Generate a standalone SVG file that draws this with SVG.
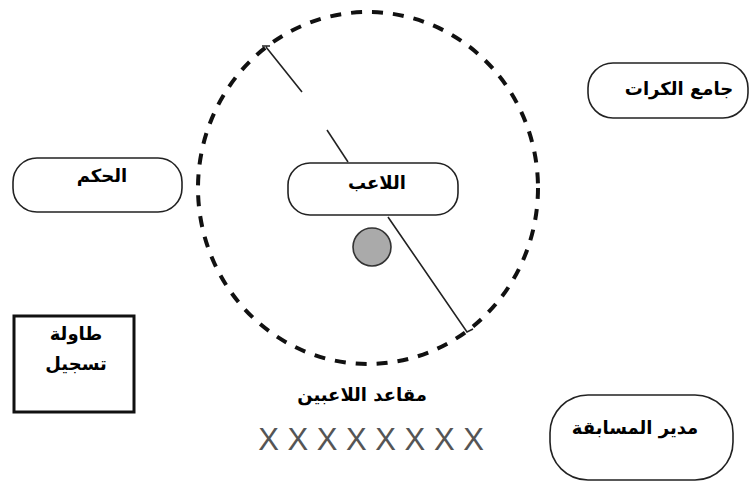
<svg xmlns="http://www.w3.org/2000/svg" width="753" height="487" viewBox="0 0 753 487">
<style>
.box{fill:#fff;stroke:#222;stroke-width:1.6}
.lbl{font-family:"DejaVu Sans","Liberation Sans",sans-serif;font-weight:bold;font-size:18px;fill:#000;text-anchor:middle}
.ln{stroke:#222;stroke-width:1.6;fill:none}
</style>
<rect width="753" height="487" fill="#fff"/>
<g id="field">
<ellipse cx="368" cy="188" rx="170" ry="176" fill="none" stroke="#111" stroke-width="4" stroke-dasharray="11 10"/>
</g>
<g id="connectors">
<path class="ln" d="M262 46 L270 46 M266 47 L302 92"/>
<path class="ln" d="M327 130 L348 162"/>
<path class="ln" d="M388 217 L467 332 L473 329"/>
</g>
<g id="player">
<rect class="box" x="288" y="163" width="170" height="52" rx="22"/>
<text class="lbl" x="377" y="189">اللاعب</text>
</g>
<g id="ball">
<circle cx="372" cy="247" r="19" fill="#aaa" stroke="#333" stroke-width="1.6"/>
</g>
<g id="referee">
<rect class="box" x="13" y="158" width="169" height="54" rx="24"/>
<text class="lbl" x="102" y="182">الحكم</text>
</g>
<g id="ball-collector">
<rect class="box" x="588" y="63" width="160" height="55" rx="25"/>
<text class="lbl" x="679" y="95">جامع الكرات</text>
</g>
<g id="registration-table">
<rect x="14" y="316" width="120" height="96" fill="#fff" stroke="#111" stroke-width="3"/>
<text class="lbl" x="76" y="340">طاولة</text>
<text class="lbl" x="76" y="370">تسجيل</text>
</g>
<g id="bench">
<text class="lbl" x="362" y="401">مقاعد اللاعبين</text>
<text x="371" y="450" font-family="Liberation Sans, sans-serif" font-size="31" fill="#555" text-anchor="middle">X X X X X X X X</text>
</g>
<g id="competition-manager">
<rect class="box" x="550" y="395" width="183" height="85" rx="38"/>
<text class="lbl" x="635" y="434">مدير المسابقة</text>
</g>
</svg>
